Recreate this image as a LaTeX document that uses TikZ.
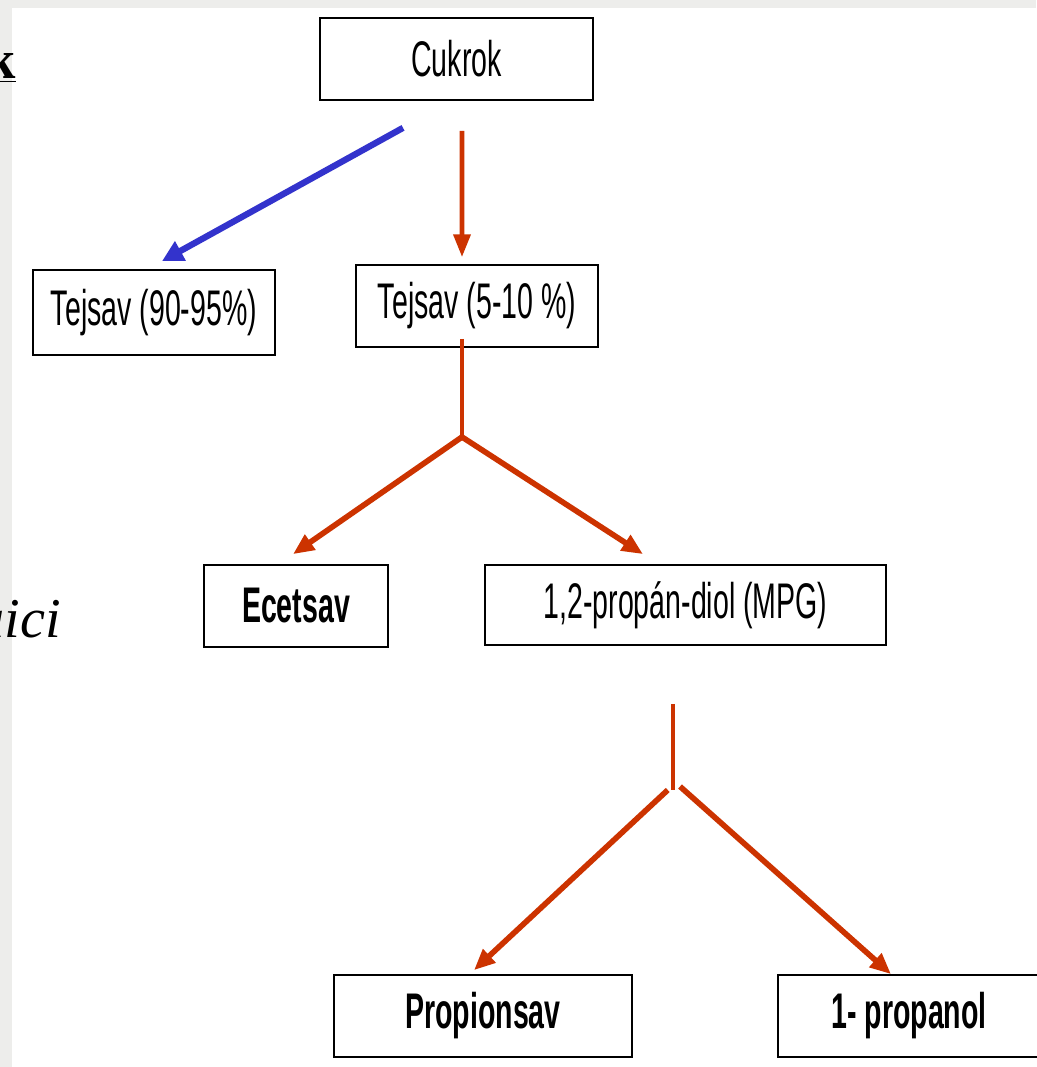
\documentclass[tikz,border=0pt]{standalone}
\usepackage{fontspec}
\setmainfont{Liberation Sans}[FakeStretch=0.57]
\newfontfamily\slideserif{Liberation Serif}
\usepackage{xcolor}
\usepackage{tikz}
\usetikzlibrary{arrows.meta,positioning,calc}

\definecolor{fluxred}{RGB}{204,51,0}
\definecolor{fluxblue}{RGB}{51,51,204}
\definecolor{slidegray}{RGB}{237,237,235}

\begin{document}
\begin{tikzpicture}[
  x=0.02cm, y=-0.02cm,
  box/.style={rectangle, draw, line width=1pt, minimum height=1.64cm, inner sep=2pt, font=\fontsize{28.5pt}{32pt}\selectfont},
  redline/.style={draw=fluxred, line width=2.6pt},
  redarrow/.style={-{Triangle[length=12pt, width=10pt]}, draw=fluxred, fill=fluxred, line width=3.2pt},
  bluearrow/.style={-{Triangle[length=12pt, width=12pt]}, draw=fluxblue, fill=fluxblue, line width=3.6pt}
]
\useasboundingbox (0,0) rectangle (1036,1067);

% Slide background
\fill[slidegray] (0,0) rectangle (1036,1067);
\fill[white] (12,8) rectangle (1036,1067);

% Cut-off slide text on the left
\node[font=\slideserif\bfseries\fontsize{31pt}{34pt}\selectfont, anchor=base east, inner sep=0pt] (title_k) at (16,79) {\underline{k}};
\node[font=\slideserif\itshape\fontsize{32pt}{35pt}\selectfont, anchor=base east, inner sep=0pt] (note_aici) at (61,637) {aici};

% Top: sugar
\node[box, minimum width=5.46cm] (cukrok) at (456.5,59) {Cukrok};

% Lactic acid split
\node[box, minimum width=4.84cm, minimum height=1.7cm] (tej1) at (154,312.5) {Tejsav (90-95\%)};
\node[box, minimum width=4.84cm] (tej2) at (477,306) {Tejsav (5-10 \%)};

% Products of the minor part
\node[box, minimum width=3.68cm, font=\fontsize{28.5pt}{32pt}\selectfont\bfseries] (ecet) at (296,606) {Ecetsav};
\node[box, minimum width=8.02cm, minimum height=1.6cm] (mpg) at (685.5,605) {1,2-propán-diol (MPG)};

% Bottom: products of MPG
\node[box, minimum width=5.96cm, font=\fontsize{28.5pt}{32pt}\selectfont\bfseries] (prop) at (483,1016) {Propionsav};
\node[box, minimum width=5.24cm, font=\fontsize{28.5pt}{32pt}\selectfont\bfseries] (propanol) at (909,1016) {1- propanol};

% Forks
\coordinate (fork1) at (462,437);
\coordinate (fork2) at (673,790);

% Arrows
\draw[bluearrow] ($(cukrok.south)+(-53.5,27)$) -- ($(tej1.north)+(8,-8)$);
\draw[redarrow, line width=2.6pt, -{Triangle[length=13pt, width=9.5pt]}] ($(cukrok.south)+(5.5,30)$) -- ($(tej2.north)+(-15,-7)$);
\draw[redline] ($(tej2.south)+(-15,-9)$) -- (fork1);
\draw[redarrow] (fork1) -- ($(ecet.north)+(-3,-10)$);
\draw[redarrow] (fork1) -- ($(mpg.north)+(-42.5,-10)$);
\draw[redline] ($(mpg.south)+(-12.5,58)$) -- (fork2);
\draw[redarrow] ([xshift=-3]fork2) -- ($(prop.north)+(-9,-4)$);
\draw[redarrow] ([xshift=4, yshift=2]fork2) -- ($(propanol.north)+(-18,0)$);

\end{tikzpicture}
\end{document}
